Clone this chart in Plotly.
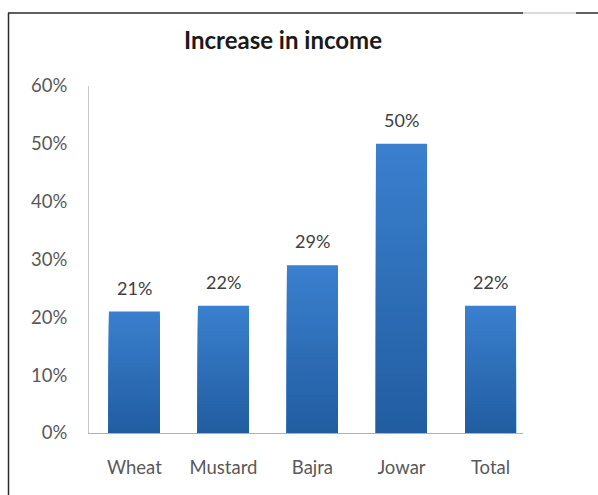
import plotly.graph_objects as go

# Increase in income by crop
crops = ["Wheat", "Mustard", "Bajra", "Jowar", "Total"]
increase = [0.21, 0.22, 0.29, 0.50, 0.22]
y_ticks = [0, 0.1, 0.2, 0.3, 0.4, 0.5, 0.6]

FONT = "Lato, Carlito, sans-serif"
TOP_RGB = (58, 128, 206)
BOTTOM_RGB = (33, 92, 160)
LAYERS = 40

W, H = 598, 495
M_L, M_R, M_T, M_B = 89, 75, 86, 62


def blend(f):
    r, g, b = (round(BOTTOM_RGB[i] + (TOP_RGB[i] - BOTTOM_RGB[i]) * f) for i in range(3))
    return f"rgb({r},{g},{b})"


fig = go.Figure()

# Vertical gradient: stacked overlays, tallest (lightest) drawn first
for k in range(LAYERS, 0, -1):
    f = k / LAYERS
    fig.add_trace(go.Bar(
        x=crops,
        y=[v * f for v in increase],
        marker=dict(color=blend(f), line=dict(width=0)),
        hoverinfo="skip",
        showlegend=False,
    ))

# Value labels above each bar
annotations = [
    dict(x=c, y=v, xref="x", yref="y", text=f"{v:.0%}", showarrow=False,
         yanchor="middle", yshift=24,
         font=dict(family=FONT, size=18, color="#404040"))
    for c, v in zip(crops, increase)
]

# Frame lines, positioned in pixels and converted to paper coordinates
plot_w = W - M_L - M_R
plot_h = H - M_T - M_B


def px_x(px):
    return (px - M_L) / plot_w


def px_y(py):
    return (H - M_B - py) / plot_h


frame = [
    dict(type="line", xref="paper", yref="paper",
         x0=px_x(8), x1=px_x(523), y0=px_y(13), y1=px_y(13),
         line=dict(color="#2a2a2a", width=1.5)),
    dict(type="line", xref="paper", yref="paper",
         x0=px_x(523), x1=px_x(576), y0=px_y(13), y1=px_y(13),
         line=dict(color="#cfcfcf", width=1.5)),
    dict(type="line", xref="paper", yref="paper",
         x0=px_x(576), x1=px_x(600), y0=px_y(13), y1=px_y(13),
         line=dict(color="#2a2a2a", width=1.5)),
    dict(type="line", xref="paper", yref="paper",
         x0=px_x(8.5), x1=px_x(8.5), y0=px_y(13), y1=px_y(500),
         line=dict(color="#2a2a2a", width=1.5)),
]

fig.update_layout(
    width=W,
    height=H,
    barmode="overlay",
    bargap=0.427,
    paper_bgcolor="white",
    plot_bgcolor="white",
    margin=dict(l=M_L, r=M_R, t=M_T, b=M_B),
    title=dict(
        text="<b>Increase in income</b>",
        x=283 / W,
        xanchor="center",
        y=1 - 41 / H,
        yanchor="middle",
        font=dict(family=FONT, size=24, color="#1a1a1a"),
    ),
    xaxis=dict(
        range=[-0.51, 4.365],
        showline=True,
        linecolor="#b0b0b0",
        linewidth=1,
        ticks="",
        showgrid=False,
        tickfont=dict(family=FONT, size=18.5, color="#595959"),
        ticklabelstandoff=18,
    ),
    yaxis=dict(
        range=[0, 0.6],
        tickvals=y_ticks,
        tickformat=".0%",
        showline=True,
        linecolor="#c8c8c8",
        linewidth=1,
        ticks="",
        showgrid=False,
        zeroline=False,
        tickfont=dict(family=FONT, size=18.5, color="#595959"),
        ticklabelstandoff=17,
    ),
    annotations=annotations,
    shapes=frame,
)

fig.write_html("out.html")
